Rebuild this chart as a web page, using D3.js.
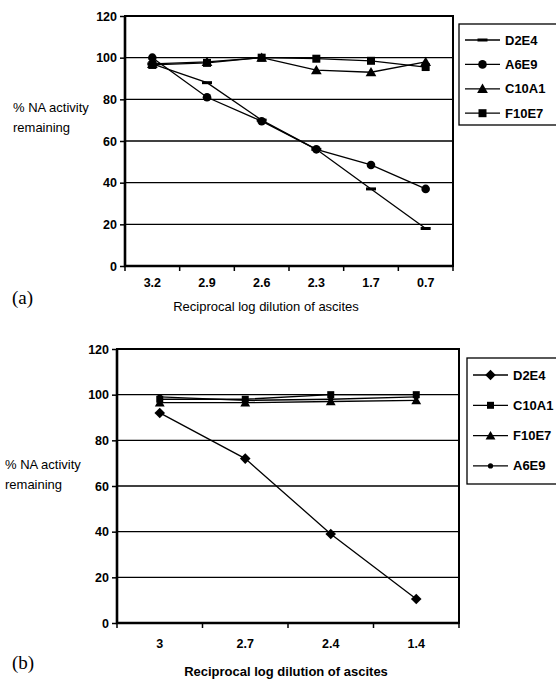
<!DOCTYPE html>
<html>
<head>
<meta charset="utf-8">
<script src="https://cdn.jsdelivr.net/npm/d3@7"></script>
<style>
  body { margin: 0; background: #fff; }
  svg { display: block; }
  text { fill: #000; }
</style>
</head>
<body>
<div id="chart"></div>
<script>
// values
const yTicks = [0, 20, 40, 60, 80, 100, 120];

// panel (a)
const catsA = ["3.2", "2.9", "2.6", "2.3", "1.7", "0.7"];
const d2e4A = [97, 88, 70, 56, 37, 18];
const a6e9A = [100, 81, 69.5, 56, 48.5, 37];
const c10a1A = [97, 98, 100, 94, 93, 98];
const f10e7A = [96.5, 97.5, 100, 99.5, 98.5, 95.5];

// panel (b)
const catsB = ["3", "2.7", "2.4", "1.4"];
const d2e4B = [92, 72, 39, 10.5];
const c10a1B = [98, 98, 100, 100];
const f10e7B = [96.5, 96.5, 97, 97.5];
const a6e9B = [99, 97.5, 98, 99];

const width = 556, height = 679;
const sans = "Arial, 'Liberation Sans', sans-serif";

const svg = d3.select("#chart").append("svg")
  .attr("width", width)
  .attr("height", height)
  .attr("font-family", sans);

function marker(g, type, x, y) {
  if (type === "dash") {
    g.append("rect").attr("x", x - 5).attr("y", y - 1.5).attr("width", 10).attr("height", 3);
  } else if (type === "circle") {
    g.append("circle").attr("cx", x).attr("cy", y).attr("r", 4.3);
  } else if (type === "dot") {
    g.append("circle").attr("cx", x).attr("cy", y).attr("r", 2.6);
  } else if (type === "diamond") {
    g.append("path")
      .attr("d", d3.symbol().type(d3.symbolSquare).size(56)())
      .attr("transform", `translate(${x},${y}) rotate(45)`);
  } else {
    const sym = {
      triangle: [d3.symbolTriangle, 50],
      square: [d3.symbolSquare, 64],
      squareS: [d3.symbolSquare, 49],
      triangleS: [d3.symbolTriangle, 42]
    }[type];
    g.append("path")
      .attr("d", d3.symbol().type(sym[0]).size(sym[1])())
      .attr("transform", `translate(${x},${y + (type.startsWith("triangle") ? 1 : 0)})`);
  }
}

function panel(cfg) {
  const g = svg.append("g");

  const x = d3.scaleBand().domain(cfg.cats).range([cfg.left, cfg.right]).padding(0);
  const y = d3.scaleLinear().domain([0, 120]).range([cfg.bottom, cfg.top]);

  // gridlines
  g.append("g").selectAll("line")
    .data(yTicks.slice(1, -1))
    .join("line")
      .attr("x1", cfg.left).attr("x2", cfg.right)
      .attr("y1", d => y(d)).attr("y2", d => y(d))
      .attr("stroke", "#000").attr("stroke-width", 1.4);

  // y axis
  const ya = g.append("g")
    .attr("transform", `translate(${cfg.left},0)`)
    .call(d3.axisLeft(y).tickValues(yTicks).tickSize(5).tickPadding(3));
  ya.select(".domain").remove();
  ya.selectAll("line").attr("stroke", "#000").attr("stroke-width", 1.5);
  ya.selectAll("text").attr("font-size", 12.5).attr("font-weight", "bold")
    .attr("font-family", sans);

  // x axis labels
  const xa = g.append("g")
    .attr("transform", `translate(0,${cfg.bottom})`)
    .call(d3.axisBottom(x).tickSize(0).tickPadding(cfg.tickPad));
  xa.select(".domain").remove();
  xa.selectAll("text").attr("font-size", 12.5).attr("font-weight", "bold")
    .attr("font-family", sans);

  // x ticks at category boundaries
  const bounds = cfg.cats.map(c => x(c)).concat([cfg.right]);
  g.append("g").selectAll("line")
    .data(bounds)
    .join("line")
      .attr("x1", d => d).attr("x2", d => d)
      .attr("y1", cfg.bottom).attr("y2", cfg.bottom + 5)
      .attr("stroke", "#000").attr("stroke-width", 1.5);

  // plot border
  g.append("rect")
    .attr("x", cfg.left).attr("y", cfg.top)
    .attr("width", cfg.right - cfg.left).attr("height", cfg.bottom - cfg.top)
    .attr("fill", "none").attr("stroke", "#000").attr("stroke-width", 2);
  g.append("path")
    .attr("d", `M${cfg.left},${cfg.top}V${cfg.bottom}H${cfg.right}`)
    .attr("fill", "none").attr("stroke", "#000").attr("stroke-width", 2.6);

  // series
  const line = d3.line()
    .x((d, i) => x(cfg.cats[i]) + x.bandwidth() / 2)
    .y(d => y(d));

  cfg.series.forEach(s => {
    g.append("path")
      .datum(s.values)
      .attr("d", line)
      .attr("fill", "none").attr("stroke", "#000").attr("stroke-width", 1.3);
  });
  cfg.series.forEach(s => {
    const mg = g.append("g").attr("fill", "#000");
    s.values.forEach((v, i) => marker(mg, s.marker, x(cfg.cats[i]) + x.bandwidth() / 2, y(v)));
  });

  // y title
  const yt = g.append("text").attr("font-size", 13);
  yt.append("tspan").attr("x", cfg.yTitleX).attr("y", cfg.yTitleY).text("% NA activity");
  yt.append("tspan").attr("x", cfg.yTitleX).attr("y", cfg.yTitleY + 20).text("remaining");

  // x title
  g.append("text")
    .attr("x", cfg.xTitleX).attr("y", cfg.xTitleY)
    .attr("text-anchor", "middle")
    .attr("font-size", 13)
    .attr("font-weight", cfg.xTitleBold ? "bold" : "normal")
    .text("Reciprocal log dilution of ascites");

  // panel letter
  g.append("text")
    .attr("x", 12).attr("y", cfg.letterY)
    .attr("font-family", "'Liberation Serif', 'DejaVu Serif', serif")
    .attr("font-size", 19)
    .text(cfg.letter);

  // legend
  const lg = g.append("g");
  lg.append("rect")
    .attr("x", cfg.legX).attr("y", cfg.legTop)
    .attr("width", cfg.legW).attr("height", cfg.legH)
    .attr("fill", "#fff").attr("stroke", "#000").attr("stroke-width", 1.3);
  cfg.series.forEach((s, i) => {
    const ly = cfg.legY0 + i * cfg.legStep;
    lg.append("line")
      .attr("x1", cfg.legX + 6).attr("x2", cfg.legX + 41)
      .attr("y1", ly).attr("y2", ly)
      .attr("stroke", "#000").attr("stroke-width", 1.3);
    const mg = lg.append("g").attr("fill", "#000");
    marker(mg, s.marker, cfg.legX + 23.5, ly);
    lg.append("text")
      .attr("x", cfg.legX + 46).attr("y", ly + 4.5)
      .attr("font-size", 13).attr("font-weight", "bold")
      .text(s.name);
  });
}

panel({
  cats: catsA, left: 125, right: 453, top: 16, bottom: 266, tickPad: 12,
  series: [
    { name: "D2E4", values: d2e4A, marker: "dash" },
    { name: "A6E9", values: a6e9A, marker: "circle" },
    { name: "C10A1", values: c10a1A, marker: "triangle" },
    { name: "F10E7", values: f10e7A, marker: "square" }
  ],
  yTitleX: 13, yTitleY: 112, xTitleX: 266, xTitleY: 311, xTitleBold: false,
  letter: "(a)", letterY: 304,
  legX: 459, legTop: 24, legW: 100, legH: 101, legY0: 40, legStep: 24.4
});

panel({
  cats: catsB, left: 117, right: 459, top: 349, bottom: 623, tickPad: 16,
  series: [
    { name: "D2E4", values: d2e4B, marker: "diamond" },
    { name: "C10A1", values: c10a1B, marker: "squareS" },
    { name: "F10E7", values: f10e7B, marker: "triangleS" },
    { name: "A6E9", values: a6e9B, marker: "dot" }
  ],
  yTitleX: 5, yTitleY: 469, xTitleX: 286, xTitleY: 676, xTitleBold: true,
  letter: "(b)", letterY: 669,
  legX: 467, legTop: 358, legW: 100, legH: 126, legY0: 375, legStep: 30.3
});
</script>
</body>
</html>
